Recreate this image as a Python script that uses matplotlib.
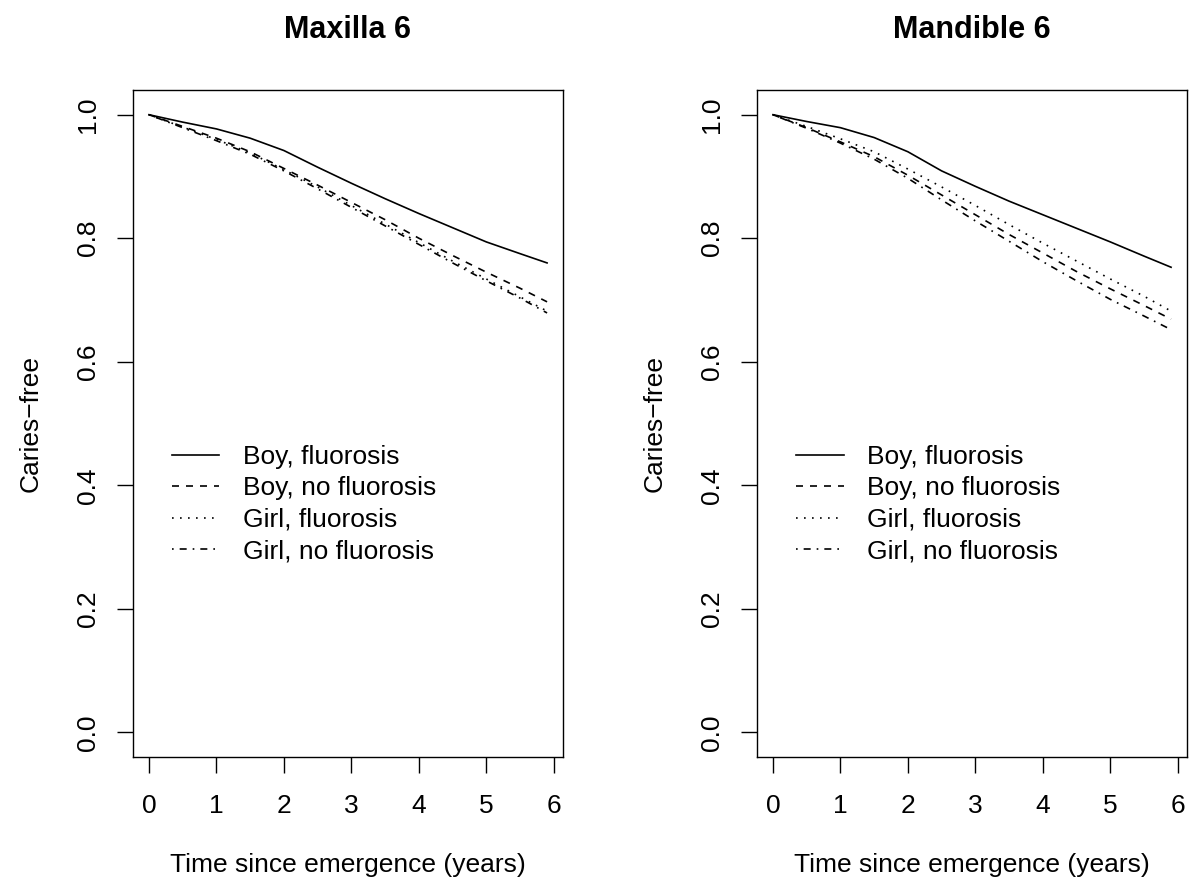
import matplotlib
matplotlib.use("Agg")
import matplotlib.pyplot as plt

plt.rcParams['font.family'] = ['Liberation Sans', 'DejaVu Sans']

# time since emergence (years)
t = [0, 0.5, 1, 1.5, 2, 2.5, 3, 3.5, 4, 4.5, 5, 5.5, 5.9]

labels = ["Boy, fluorosis", "Boy, no fluorosis", "Girl, fluorosis", "Girl, no fluorosis"]
titles = ["Maxilla 6", "Mandible 6"]

# Maxilla 6
max_boy_fl = [1.0, 0.988, 0.977, 0.962, 0.942, 0.915, 0.889, 0.864, 0.840, 0.817, 0.794, 0.775, 0.760]
max_boy_nofl = [1.0, 0.981, 0.962, 0.940, 0.913, 0.886, 0.858, 0.830, 0.800, 0.772, 0.745, 0.719, 0.697]
max_girl_fl = [1.0, 0.980, 0.960, 0.938, 0.911, 0.883, 0.853, 0.823, 0.793, 0.763, 0.734, 0.705, 0.682]
max_girl_nofl = [1.0, 0.979, 0.958, 0.936, 0.909, 0.880, 0.850, 0.820, 0.790, 0.760, 0.731, 0.703, 0.679]

# Mandible 6
man_boy_fl = [1.0, 0.989, 0.979, 0.963, 0.940, 0.909, 0.884, 0.860, 0.838, 0.816, 0.794, 0.771, 0.753]
man_boy_nofl = [1.0, 0.979, 0.956, 0.932, 0.902, 0.870, 0.838, 0.806, 0.776, 0.746, 0.718, 0.691, 0.669]
man_girl_fl = [1.0, 0.981, 0.961, 0.940, 0.912, 0.883, 0.853, 0.822, 0.792, 0.763, 0.734, 0.706, 0.682]
man_girl_nofl = [1.0, 0.978, 0.954, 0.928, 0.897, 0.862, 0.828, 0.795, 0.762, 0.731, 0.701, 0.674, 0.652]

panels = [
    [max_boy_fl, max_boy_nofl, max_girl_fl, max_girl_nofl],
    [man_boy_fl, man_boy_nofl, man_girl_fl, man_girl_nofl],
]

# R lty 1..4: solid, dashed, dotted, dotdash
styles = ['-', (0, (4.2, 4.2)), (0, (1, 3.8)), (0, (1, 3.6, 4.2, 3.6))]

W, H = 1196, 889
fig = plt.figure(figsize=(W / 100, H / 100), dpi=100)

fs = 19
lefts = [133, 757]
for k, curves in enumerate(panels):
    ax = fig.add_axes([lefts[k] / W, (H - 757) / H, 430 / W, 667 / H])
    for y, ls, lab in zip(curves, styles, labels):
        ax.plot(t, y, color='black', lw=1.2, linestyle=ls, label=lab)
    ax.set_xlim(-0.236, 6.136)
    ax.set_ylim(-0.04, 1.04)
    ax.set_xticks([0, 1, 2, 3, 4, 5, 6])
    ax.set_yticks([0.0, 0.2, 0.4, 0.6, 0.8, 1.0])
    ax.set_yticklabels(["0.0", "0.2", "0.4", "0.6", "0.8", "1.0"], rotation=90, va='center')
    ax.tick_params(length=11.5, width=1.0, labelsize=fs, direction='out')
    ax.tick_params(axis='x', pad=15)
    ax.tick_params(axis='y', pad=12)
    for s in ax.spines.values():
        s.set_linewidth(1.0)
    ax.set_xlabel("Time since emergence (years)", fontsize=fs, labelpad=25)
    ax.set_ylabel("Caries\u2212free", fontsize=fs, labelpad=24)
    ax.set_title(titles[k], fontsize=22, fontweight='bold', pad=37.5)
    ax.legend(loc='upper left', frameon=False, fontsize=fs,
              bbox_to_anchor=((lefts[k] + 39) / W, 1 - 445 / H),
              bbox_transform=fig.transFigure, borderaxespad=0, borderpad=0,
              handlelength=1.8, handletextpad=0.89, labelspacing=0.28)

fig.savefig("out.png", dpi=100)
